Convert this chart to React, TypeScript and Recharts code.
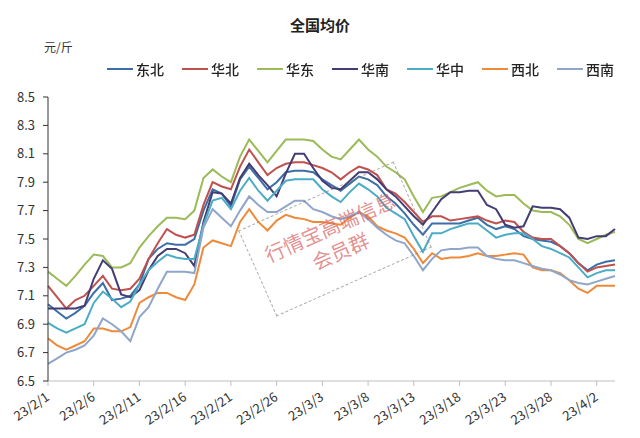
import { LineChart, Line, XAxis, YAxis, Legend } from "recharts";

// 2023-02-01 .. 2023-04-04, one value per day
const dates: string[] = [];
for (let m = 2; m <= 4; m++) {
  const last = m === 2 ? 28 : m === 3 ? 31 : 4;
  for (let d = 1; d <= last; d++) dates.push(`23/${m}/${d}`);
}

const dongbei = [
  7.04, 6.99, 6.94, 6.98, 7.03, 7.12, 7.19, 7.07, 7.08, 7.1, 7.18, 7.36, 7.43, 7.47, 7.46, 7.46,
  7.5, 7.7, 7.85, 7.82, 7.73, 7.92, 8.01, 7.93, 7.85, 7.9, 7.97, 7.98, 7.98, 7.97, 7.92, 7.88,
  7.84, 7.89, 7.94, 7.92, 7.88, 7.8, 7.75, 7.68, 7.6, 7.53, 7.61, 7.61, 7.61, 7.61, 7.63, 7.65,
  7.6, 7.57, 7.59, 7.57, 7.52, 7.5, 7.49, 7.48, 7.45, 7.4, 7.33, 7.28, 7.32, 7.34, 7.35,
];
const huabei = [
  7.17, 7.09, 7.01, 7.07, 7.1, 7.17, 7.24, 7.15, 7.14, 7.15, 7.22, 7.36, 7.47, 7.57, 7.53, 7.51,
  7.53, 7.74, 7.9, 7.87, 7.85, 8.01, 8.13, 8.04, 7.95, 8.0, 8.03, 8.04, 8.04, 8.02, 8.0, 7.97,
  7.92, 7.97, 8.01, 7.99, 7.95, 7.85, 7.82, 7.76, 7.69, 7.62, 7.66, 7.66, 7.63, 7.64, 7.65, 7.66,
  7.63, 7.61, 7.63, 7.62, 7.55, 7.51, 7.5, 7.5, 7.45, 7.4, 7.33, 7.27, 7.3, 7.31, 7.32,
];
const huadong = [
  7.27, 7.22, 7.17, 7.24, 7.32, 7.39, 7.38, 7.3, 7.3, 7.33, 7.44, 7.52, 7.59, 7.65, 7.65, 7.64,
  7.7, 7.93, 7.99, 7.94, 7.9, 8.08, 8.2, 8.12, 8.04, 8.12, 8.2, 8.2, 8.2, 8.19, 8.13, 8.08,
  8.06, 8.13, 8.2, 8.13, 8.08, 8.01, 7.97, 7.92, 7.8, 7.69, 7.79, 7.8, 7.83, 7.86, 7.88, 7.9,
  7.84, 7.8, 7.81, 7.81, 7.75, 7.7, 7.69, 7.69, 7.66, 7.6, 7.5, 7.47, 7.5, 7.53, 7.55,
];
const huanan = [
  7.01, 7.01, 7.01, 7.01, 7.03, 7.22, 7.35, 7.29, 7.11, 7.09, 7.14, 7.28, 7.38, 7.43, 7.43, 7.4,
  7.31, 7.62, 7.83, 7.82, 7.75, 7.93, 8.03, 7.95, 7.88, 7.8, 7.96, 8.1, 8.1, 8.0, 7.91, 7.86,
  7.85, 7.91, 7.97, 7.97, 7.92, 7.85, 7.8, 7.73, 7.66, 7.6, 7.69, 7.78, 7.83, 7.83, 7.84, 7.84,
  7.74, 7.71, 7.6, 7.58, 7.59, 7.73, 7.72, 7.72, 7.71, 7.65, 7.51, 7.5, 7.52, 7.52, 7.57,
];
const huazhong = [
  6.91, 6.87, 6.84, 6.87, 6.9, 7.05, 7.13, 7.08, 7.02, 7.06, 7.18, 7.28, 7.34, 7.39, 7.37, 7.36,
  7.36, 7.6, 7.77, 7.79, 7.71, 7.84, 7.93, 7.84, 7.77, 7.84, 7.91, 7.92, 7.92, 7.92, 7.85, 7.8,
  7.76, 7.83, 7.89, 7.85, 7.8, 7.72, 7.68, 7.64, 7.52, 7.41, 7.54, 7.54, 7.57, 7.59, 7.61, 7.61,
  7.56, 7.51, 7.53, 7.54, 7.54, 7.5, 7.45, 7.43, 7.4, 7.37, 7.3, 7.23, 7.26, 7.28, 7.28,
];
const xibei = [
  6.8, 6.75, 6.72, 6.75, 6.78, 6.87, 6.87, 6.85, 6.85, 6.88, 7.05, 7.09, 7.12, 7.12, 7.09, 7.07,
  7.18, 7.44, 7.49, 7.47, 7.45, 7.62, 7.71, 7.62, 7.56, 7.63, 7.67, 7.65, 7.64, 7.62, 7.62, 7.61,
  7.6, 7.65, 7.69, 7.66, 7.59, 7.56, 7.54, 7.51, 7.43, 7.33, 7.4, 7.36, 7.37, 7.37, 7.38, 7.4,
  7.38, 7.38, 7.39, 7.4, 7.39, 7.3, 7.28, 7.28, 7.26, 7.21, 7.15, 7.12, 7.17, 7.17, 7.17,
];
const xinan = [
  6.62, 6.66, 6.7, 6.72, 6.75, 6.82, 6.94, 6.9, 6.85, 6.78, 6.95, 7.02, 7.15, 7.27, 7.27, 7.27,
  7.26, 7.58, 7.71, 7.65, 7.59, 7.7, 7.8, 7.74, 7.69, 7.69, 7.73, 7.77, 7.77, 7.71, 7.69, 7.66,
  7.64, 7.66, 7.69, 7.64, 7.58, 7.53, 7.49, 7.47, 7.38, 7.28, 7.36, 7.42, 7.43, 7.43, 7.44, 7.44,
  7.38, 7.36, 7.35, 7.35, 7.33, 7.31, 7.29, 7.28, 7.25, 7.21, 7.19, 7.18, 7.2, 7.22, 7.24,
];

const yTicks = [6.5, 6.7, 6.9, 7.1, 7.3, 7.5, 7.7, 7.9, 8.1, 8.3, 8.5];

const SERIES = [
  { key: "东北", values: dongbei, color: "#3C6EA8" },
  { key: "华北", values: huabei, color: "#C0504D" },
  { key: "华东", values: huadong, color: "#9BBB59" },
  { key: "华南", values: huanan, color: "#433D73" },
  { key: "华中", values: huazhong, color: "#4BACC6" },
  { key: "西北", values: xibei, color: "#EE8A3A" },
  { key: "西南", values: xinan, color: "#8FA6CA" },
];

const chartData = dates.map((date, i) => {
  const row: Record<string, string | number> = { date };
  SERIES.forEach((s) => {
    row[s.key] = s.values[i];
  });
  return row;
});

const FONT = '"Noto Sans CJK SC", "Noto Sans", sans-serif';

function LegendRow() {
  return (
    <div style={{ display: "flex", fontFamily: FONT, fontSize: 14, fontWeight: 500, color: "#222" }}>
      {SERIES.map((s) => (
        <div key={s.key} style={{ display: "flex", alignItems: "center", width: 75 }}>
          <span style={{ display: "inline-block", width: 26, height: 2, background: s.color, marginRight: 3 }} />
          <span>{s.key}</span>
        </div>
      ))}
    </div>
  );
}

function DateTick(props: any) {
  const { x, y, payload } = props;
  return (
    <g transform={`translate(${x},${y + 8})`}>
      <text
        textAnchor="end"
        transform="rotate(-34)"
        fontSize={13}
        fill="#333"
        fontFamily={FONT}
        dy={4}
      >
        {payload.value}
      </text>
    </g>
  );
}

export default function App() {
  return (
    <div
      style={{
        position: "fixed",
        left: 0,
        top: 0,
        width: 640,
        height: 438,
        background: "#fff",
        fontFamily: FONT,
      }}
    >
      <div
        style={{
          position: "absolute",
          top: 14,
          width: 640,
          textAlign: "center",
          fontSize: 15,
          fontWeight: 700,
          color: "#222",
        }}
      >
        全国均价
      </div>
      <div style={{ position: "absolute", left: 44, top: 38, fontSize: 12, color: "#333" }}>元/斤</div>
      <LineChart
        width={640}
        height={438}
        data={chartData}
        margin={{ top: 77, right: 25, left: 8, bottom: 0 }}
      >
        <XAxis
          dataKey="date"
          scale="point"
          padding={{ left: 0, right: 0 }}
          interval={4}
          height={57}
          stroke="#BFBFBF"
          tickSize={5}
          tick={<DateTick />}
        />
        <YAxis
          domain={[6.5, 8.5]}
          ticks={yTicks}
          width={40}
          stroke="#333"
          tickSize={5}
          tickMargin={8}
          tick={{ fontSize: 13, fill: "#333", fontFamily: FONT }}
          tickFormatter={(v) => v.toFixed(1)}
        />
        <Legend
          verticalAlign="top"
          align="left"
          wrapperStyle={{ top: 59, left: 107, width: 540 }}
          content={() => <LegendRow />}
        />
        {SERIES.map((s) => (
          <Line
            key={s.key}
            dataKey={s.key}
            stroke={s.color}
            strokeWidth={2}
            dot={false}
            type="linear"
            isAnimationActive={false}
          />
        ))}
      </LineChart>
      <div
        style={{
          position: "absolute",
          left: 250,
          top: 192,
          width: 168,
          height: 92,
          border: "1px dashed rgba(120,120,120,0.6)",
          transform: "rotate(-24deg)",
          display: "flex",
          flexDirection: "column",
          alignItems: "center",
          justifyContent: "center",
          color: "rgba(215,95,95,0.7)",
          fontSize: 20,
          lineHeight: "26px",
          pointerEvents: "none",
        }}
      >
        <span>行情宝高端信息</span>
        <span>会员群</span>
      </div>
    </div>
  );
}
